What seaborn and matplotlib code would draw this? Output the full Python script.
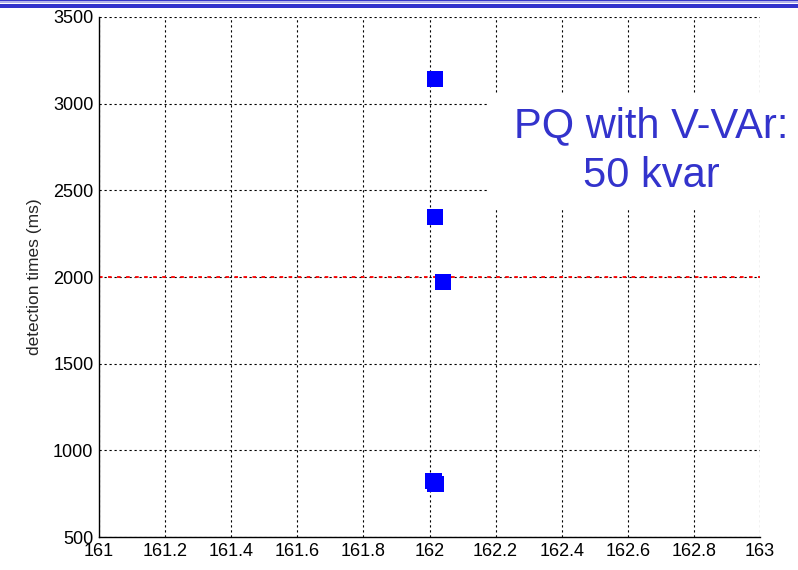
import matplotlib
matplotlib.use("Agg")
import matplotlib.pyplot as plt
import seaborn as sns
import pandas as pd
from matplotlib.patches import Rectangle

# Data
freq_hz = [162.017, 162.017, 162.040, 162.012, 162.018]
detect_ms = [3142, 2346, 1970, 821, 804]
xticks = [161, 161.2, 161.4, 161.6, 161.8, 162, 162.2, 162.4, 162.6, 162.8, 163]
xtick_labels = ["161", "161.2", "161.4", "161.6", "161.8", "162", "162.2", "162.4", "162.6", "162.8", "163"]
yticks = [500, 1000, 1500, 2000, 2500, 3000, 3500]
limit_ms = 2000
annotation = "PQ with V-VAr:\n50 kvar"

sns.set_style("white")
plt.rcParams['font.family'] = ['Liberation Sans', 'DejaVu Sans']

df = pd.DataFrame({"freq": freq_hz, "ms": detect_ms})

fig = plt.figure(figsize=(7.98, 5.70), dpi=100)
ax = fig.add_axes([99/798, 1-537/570, (760-99)/798, (537-17)/570])

ax.set_axisbelow(True)
ax.grid(True, color='black', linestyle=(0, (2, 2.5)), linewidth=0.8)
ax.axhline(limit_ms, color='red', linestyle=(0, (2, 3)), linewidth=1.3, zorder=1.5)

sns.scatterplot(data=df, x="freq", y="ms", ax=ax, marker='s', s=135,
                color='#0000FF', edgecolor='none', zorder=4, legend=False)

ax.set_xlim(161, 163)
ax.set_ylim(500, 3500)
ax.set_xticks(xticks)
ax.set_xticklabels(xtick_labels)
ax.set_yticks(yticks)
ax.set_xlabel("")
ax.set_ylabel("detection times (ms)", fontsize=12.5, labelpad=8)
ax.tick_params(axis='both', direction='in', length=4, width=0.8, labelsize=13,
               color='black', labelcolor='black')
ax.tick_params(axis='x', pad=4)
ax.tick_params(axis='y', pad=4)

for side in ['top', 'right']:
    ax.spines[side].set_visible(False)
for side in ['left', 'bottom']:
    ax.spines[side].set_color('black')
    ax.spines[side].set_linewidth(1.0)

# White box behind annotation
box = Rectangle((488/798, 1-208/570), 1-488/798, (208-95)/570,
                transform=fig.transFigure, facecolor='white', edgecolor='none',
                zorder=3, clip_on=False)
ax.add_artist(box)
ax.text(651/798, 1-151/570, annotation, transform=fig.transFigure,
        ha='center', va='center', multialignment='center', fontsize=30,
        color='#3333CC', linespacing=1.3, zorder=5)

# Top banner stripes
bands = [(0, 1.5, '#3b3bc8'), (1.5, 3, '#b4b4ea'), (3, 4.5, '#ffffff'),
         (4.5, 7.5, '#3333cc')]
for y0, y1, c in bands:
    fig.add_artist(Rectangle((0, 1-y1/570), 1, (y1-y0)/570,
                             transform=fig.transFigure, facecolor=c,
                             edgecolor='none'))

fig.savefig("out.png", dpi=100)
